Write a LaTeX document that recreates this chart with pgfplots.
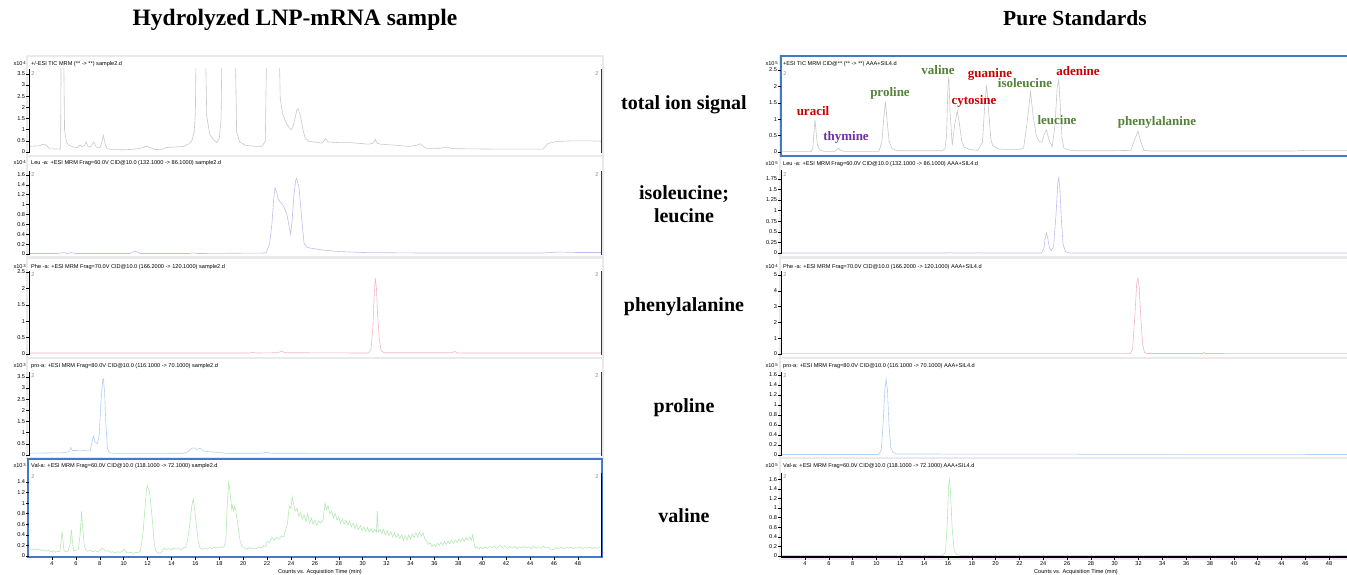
\documentclass[border=0pt]{standalone}
\usepackage{fontspec}
\setmainfont{Liberation Sans}
\newfontfamily\tnr{Liberation Serif}
\usepackage{pgfplots}
\pgfplotsset{compat=1.18}

\definecolor{ticg}{RGB}{200,200,200}
\definecolor{leuc}{RGB}{190,190,242}
\definecolor{phec}{RGB}{242,185,196}
\definecolor{proc}{RGB}{175,208,246}
\definecolor{valc}{RGB}{182,232,182}
\definecolor{selblue}{RGB}{70,120,200}
\definecolor{annred}{RGB}{200,0,0}
\definecolor{anngreen}{RGB}{84,130,53}
\definecolor{annpurple}{RGB}{112,48,160}
\definecolor{framegray}{RGB}{234,234,234}

\newcommand{\tf}{\fontsize{5.6}{6}\selectfont}
\newcommand{\hf}{\fontsize{5.6}{6}\selectfont}
\newcommand{\ex}[1]{x10\,\raisebox{0.55ex}{\fontsize{4.2}{4}\selectfont #1}}

\pgfplotsset{
 chrom/.style={scale only axis, anchor=south west, height=84pt,
   axis line style={draw=none},
   ytick pos=left, xtick=\empty,
   tick align=outside, major tick length=3pt,
   tick style={black, line width=0.5pt},
   yticklabel style={font=\tf, inner sep=1pt},
   xticklabel style={font=\tf, inner sep=1pt, text height=4.2pt, text depth=0pt},
   scaled y ticks=false,
   clip mode=individual,
   /pgf/number format/assume math mode=true,
   every axis plot/.append style={line width=0.6pt, no markers},
 },
 lcol/.style={width=572.4pt, xmin=2.1, xmax=50},
 rcol/.style={width=571.7pt, xmin=2.0, xmax=50},
}

\begin{document}
\begin{tikzpicture}
\path[use as bounding box] (0,0) rectangle (1347pt,574pt);

% frames
\foreach \t/\b in {56/156,156/257,258/358,358/458}{
  \draw[framegray, line width=1.5pt] (27pt,574pt-\t pt) rectangle (603pt,574pt-\b pt);
  \draw[framegray, line width=1.5pt] (780pt,574pt-\t pt) rectangle (1350pt,574pt-\b pt);
}
\draw[framegray, line width=1.5pt] (780pt,574pt-458pt) rectangle (1350pt,574pt-559pt);

% titles
\node[font=\tnr\bfseries\fontsize{23.5}{26}\selectfont, anchor=mid] at (295pt,551pt) {Hydrolyzed LNP-mRNA sample};
\node[font=\tnr\bfseries\fontsize{21.5}{24}\selectfont, anchor=mid] at (1075pt,551pt) {Pure Standards};

% middle labels
\begin{scope}[every node/.style={font=\tnr\bfseries\fontsize{20}{22}\selectfont, anchor=mid}]
\node at (684pt,574pt-107pt) {total ion signal};
\node at (684pt,574pt-197pt) {isoleucine;};
\node at (684pt,574pt-220pt) {leucine};
\node at (684pt,574pt-309pt) {phenylalanine};
\node at (684pt,574pt-410pt) {proline};
\node at (684pt,574pt-520pt) {valine};
\end{scope}

% ================= LEFT COLUMN =================
\begin{axis}[chrom, lcol, at={(29.3pt,421pt)}, ymin=-0.045, ymax=3.72, ytick={0,0.5,1,1.5,2,2.5,3,3.5}]
\addplot[ticg] coordinates {(2.1,0.25) (2.6,0.27) (3.0,0.28) (3.2,0.35) (3.5,0.32) (3.8,0.14) (4.6,0.13) (4.72,0.14) (4.78,6) (4.95,6) (5.05,1.0) (5.2,0.45) (5.4,0.3) (5.8,0.22) (6.1,0.2) (6.35,0.32) (6.5,0.22) (6.7,0.28) (6.85,0.45) (7.0,0.25) (7.2,0.22) (7.5,0.45) (7.7,0.22) (8.0,0.2) (8.15,0.4) (8.3,0.75) (8.45,0.35) (8.6,0.15) (9.0,0.11) (10,0.1) (10.8,0.12) (11.2,0.15) (11.6,0.2) (11.9,0.26) (12.3,0.18) (12.7,0.11) (13.2,0.12) (13.6,0.2) (14.3,0.22) (15.0,0.25) (15.4,0.35) (15.7,0.5) (15.9,0.9) (16.0,1.8) (16.08,6) (16.8,6) (16.95,1.6) (17.2,0.8) (17.5,0.55) (17.8,0.42) (18.0,0.6) (18.15,1.5) (18.25,6) (19.3,6) (19.45,0.9) (19.7,0.45) (20.2,0.3) (21.0,0.25) (21.6,0.26) (21.85,0.5) (22.0,6) (22.95,6) (23.1,2.4) (23.3,1.7) (23.6,1.3) (23.9,1.05) (24.05,1.0) (24.25,1.3) (24.5,1.9) (24.6,1.93) (24.8,1.6) (25.0,1.0) (25.2,0.6) (25.5,0.48) (26.0,0.44) (26.6,0.4) (26.9,0.6) (27.1,0.45) (28.0,0.42) (29,0.42) (30.5,0.35) (30.9,0.4) (31.05,0.57) (31.2,0.4) (31.5,0.35) (32.8,0.3) (33.9,0.25) (34.5,0.3) (34.8,0.37) (35.0,0.28) (35.35,0.16) (36.5,0.17) (37.0,0.22) (37.5,0.15) (39,0.14) (41.2,0.13) (43,0.13) (45.1,0.13) (45.5,0.38) (46.2,0.47) (47.5,0.5) (49,0.5) (50,0.48)};
\draw[black, line width=1.2pt] (rel axis cs:0,0) -- (rel axis cs:0,1);
\draw[black!80, line width=0.8pt] (rel axis cs:1,0) -- (rel axis cs:1,1);
\end{axis}

\begin{axis}[chrom, lcol, at={(29.3pt,319pt)}, ymin=-0.02, ymax=1.68, ytick={0,0.2,0.4,0.6,0.8,1,1.2,1.4,1.6}]
\addplot[leuc] coordinates {(2.1,0.01) (4.5,0.01) (4.95,0.03) (5.3,0.01) (5.6,0.03) (6,0.01) (10.5,0.01) (10.95,0.06) (11.4,0.01) (15.5,0.01) (15.8,0.025) (16.2,0.01) (21.9,0.02) (22.2,0.2) (22.4,0.6) (22.55,1.1) (22.66,1.34) (22.8,1.25) (22.94,1.1) (23.1,1.05) (23.22,1.03) (23.4,0.95) (23.64,0.82) (23.85,0.55) (23.97,0.4) (24.1,0.7) (24.25,1.2) (24.4,1.5) (24.47,1.53) (24.55,1.45) (24.67,1.35) (24.8,1.0) (24.9,0.7) (25.09,0.22) (25.3,0.14) (25.6,0.12) (26.7,0.08) (28,0.05) (30,0.03) (35,0.02) (45,0.02) (46.5,0.04) (48,0.03) (50,0.03)};
\draw[black, line width=1.2pt] (rel axis cs:0,0) -- (rel axis cs:0,1);
\draw[black!80, line width=0.8pt] (rel axis cs:1,0) -- (rel axis cs:1,1);
\end{axis}

\begin{axis}[chrom, lcol, at={(29.3pt,219pt)}, ymin=-0.03, ymax=2.53, ytick={0,0.5,1,1.5,2,2.5}]
\addplot[phec] coordinates {(2.1,0.03) (20.5,0.03) (20.8,0.05) (21.1,0.03) (22.9,0.04) (23.2,0.09) (23.5,0.04) (30.5,0.03) (30.7,0.15) (30.85,0.8) (30.95,1.7) (31.05,2.32) (31.15,2.0) (31.25,1.2) (31.4,0.4) (31.55,0.1) (31.8,0.04) (37.5,0.04) (37.7,0.08) (37.9,0.03) (50,0.03)};
\draw[black, line width=1.2pt] (rel axis cs:0,0) -- (rel axis cs:0,1);
\draw[black!80, line width=0.8pt] (rel axis cs:1,0) -- (rel axis cs:1,1);
\end{axis}

\begin{axis}[chrom, lcol, at={(29.3pt,118pt)}, ymin=-0.045, ymax=3.72, ytick={0,0.5,1,1.5,2,2.5,3,3.5}]
\addplot[proc] coordinates {(2.1,0.08) (5.0,0.1) (5.4,0.15) (5.56,0.33) (5.7,0.2) (6.0,0.2) (6.34,0.22) (7.0,0.18) (7.2,0.2) (7.35,0.6) (7.46,0.85) (7.6,0.6) (7.8,0.5) (7.95,0.9) (8.1,2.4) (8.25,3.4) (8.3,3.42) (8.4,2.8) (8.5,1.5) (8.63,0.3) (8.8,0.1) (9.5,0.07) (12,0.07) (15.0,0.08) (15.4,0.15) (15.7,0.3) (15.9,0.32) (16.1,0.25) (16.4,0.3) (16.7,0.18) (17.1,0.15) (17.8,0.12) (18.5,0.08) (21.5,0.08) (21.97,0.12) (22.4,0.08) (30,0.07) (40,0.07) (50,0.07)};
\draw[black, line width=1.2pt] (rel axis cs:0,0) -- (rel axis cs:0,1);
\draw[black!80, line width=0.8pt] (rel axis cs:1,0) -- (rel axis cs:1,1);
\end{axis}

\draw[selblue, line width=1.2pt] (28pt,574pt-459pt) rectangle (602pt,574pt-557pt);
\begin{axis}[chrom, lcol, at={(29.3pt,17pt)}, ymin=-0.019, ymax=1.569, ytick={0,0.2,0.4,0.6,0.8,1,1.2,1.4}, xtick={4,6,...,48}, xtick pos=left]
\addplot[valc] coordinates {(2.1,0.13) (2.3,0.11) (2.5,0.14) (2.7,0.12) (2.9,0.13) (3.1,0.1) (3.3,0.12) (3.5,0.09) (3.7,0.11) (3.9,0.08) (4.1,0.1) (4.3,0.07) (4.5,0.09) (4.65,0.08) (4.75,0.25) (4.84,0.46) (4.92,0.3) (5.0,0.1) (5.2,0.08) (5.35,0.1) (5.5,0.2) (5.62,0.5) (5.7,0.3) (5.8,0.1) (6.0,0.11) (6.2,0.12) (6.35,0.4) (6.48,0.85) (6.55,0.6) (6.7,0.2) (6.85,0.1) (7.0,0.09) (7.2,0.11) (7.4,0.08) (7.6,0.1) (7.8,0.08) (8.0,0.1) (8.2,0.15) (8.35,0.12) (8.5,0.09) (8.7,0.1) (8.9,0.07) (9.1,0.08) (9.3,0.06) (9.5,0.08) (9.7,0.07) (9.9,0.09) (10.05,0.13) (10.2,0.07) (10.4,0.06) (10.6,0.07) (10.8,0.05) (11.0,0.07) (11.2,0.06) (11.4,0.1) (11.6,0.4) (11.78,0.9) (11.9,1.25) (11.98,1.32) (12.1,1.25) (12.2,1.15) (12.3,0.9) (12.43,0.6) (12.55,0.25) (12.65,0.12) (12.8,0.07) (13.04,0.05) (13.2,0.08) (13.4,0.15) (13.6,0.12) (13.8,0.14) (14.0,0.12) (14.2,0.15) (14.4,0.13) (14.6,0.14) (14.8,0.12) (15.0,0.15) (15.2,0.17) (15.35,0.3) (15.55,0.65) (15.7,0.95) (15.82,1.08) (15.95,0.85) (16.1,0.55) (16.25,0.25) (16.4,0.15) (16.6,0.13) (16.8,0.15) (17.0,0.13) (17.2,0.16) (17.4,0.14) (17.6,0.17) (17.8,0.15) (18.0,0.17) (18.2,0.16) (18.4,0.18) (18.55,0.3) (18.65,0.9) (18.79,1.42) (18.9,1.2) (19.04,0.88) (19.1,0.95) (19.2,0.85) (19.3,0.95) (19.45,0.75) (19.6,0.5) (19.73,0.3) (19.9,0.18) (20.1,0.15) (20.3,0.13) (20.5,0.16) (20.7,0.13) (20.9,0.15) (21.1,0.14) (21.3,0.17) (21.5,0.15) (21.7,0.2) (21.9,0.18) (22.0,0.28) (22.2,0.25) (22.4,0.35) (22.6,0.3) (22.8,0.35) (23.0,0.32) (23.2,0.38) (23.4,0.36) (23.55,0.5) (23.7,0.6) (23.85,0.95) (24.0,0.9) (24.1,1.12) (24.2,1.0) (24.35,0.85) (24.5,0.9) (24.65,0.75) (24.8,0.82) (24.95,0.7) (25.1,0.78) (25.25,0.65) (25.4,0.8) (25.55,0.62) (25.7,0.72) (25.85,0.6) (26.0,0.68) (26.15,0.58) (26.3,0.66) (26.5,0.62) (26.7,0.7) (26.85,1.0) (26.95,0.88) (27.1,0.95) (27.25,0.8) (27.4,0.85) (27.55,0.72) (27.7,0.8) (27.85,0.68) (28.0,0.74) (28.15,0.62) (28.3,0.7) (28.45,0.6) (28.6,0.68) (28.75,0.58) (28.9,0.66) (29.05,0.55) (29.2,0.62) (29.35,0.52) (29.5,0.6) (29.65,0.5) (29.8,0.58) (29.95,0.48) (30.1,0.55) (30.25,0.46) (30.4,0.54) (30.55,0.45) (30.7,0.52) (30.85,0.44) (31.0,0.5) (31.15,0.45) (31.22,0.85) (31.3,0.45) (31.45,0.5) (31.6,0.42) (31.75,0.5) (31.9,0.4) (32.05,0.48) (32.2,0.38) (32.35,0.46) (32.5,0.36) (32.65,0.44) (32.8,0.35) (32.95,0.42) (33.1,0.33) (33.25,0.4) (33.4,0.3) (33.55,0.38) (33.7,0.3) (33.85,0.4) (34.0,0.32) (34.15,0.42) (34.3,0.35) (34.45,0.44) (34.6,0.36) (34.75,0.45) (34.9,0.38) (35.05,0.44) (35.2,0.32) (35.35,0.28) (35.5,0.22) (35.65,0.25) (35.8,0.18) (35.95,0.22) (36.1,0.18) (36.25,0.24) (36.4,0.2) (36.55,0.26) (36.7,0.21) (36.85,0.27) (37.0,0.22) (37.15,0.28) (37.3,0.23) (37.45,0.3) (37.6,0.24) (37.75,0.3) (37.9,0.26) (38.05,0.32) (38.2,0.27) (38.35,0.34) (38.5,0.28) (38.65,0.35) (38.8,0.3) (38.95,0.36) (39.1,0.3) (39.2,0.4) (39.3,0.28) (39.4,0.15) (39.55,0.18) (39.7,0.13) (39.85,0.17) (40.0,0.14) (40.2,0.17) (40.4,0.14) (40.6,0.18) (40.8,0.15) (41.0,0.19) (41.2,0.14) (41.5,0.2) (41.7,0.16) (41.9,0.19) (42.1,0.14) (42.3,0.18) (42.5,0.15) (42.7,0.18) (42.9,0.14) (43.1,0.17) (43.3,0.15) (43.5,0.18) (43.7,0.15) (43.9,0.17) (44.1,0.14) (44.3,0.18) (44.5,0.15) (44.7,0.17) (44.9,0.15) (45.1,0.19) (45.3,0.15) (45.5,0.17) (45.7,0.13) (45.95,0.12) (46.2,0.16) (46.4,0.14) (46.6,0.17) (46.8,0.14) (47.0,0.16) (47.2,0.15) (47.4,0.17) (47.6,0.14) (47.8,0.16) (48.0,0.15) (48.2,0.17) (48.4,0.14) (48.6,0.16) (48.8,0.15) (49.0,0.17) (49.2,0.14) (49.4,0.16) (49.6,0.15) (49.85,0.17)};
\draw[black, line width=0.8pt] (rel axis cs:1,0) -- (rel axis cs:1,1);
\end{axis}

% ================= RIGHT COLUMN =================
\draw[selblue, line width=1.2pt] (781pt,574pt-56pt) rectangle (1350pt,574pt-156pt);
\begin{axis}[chrom, rcol, at={(781.2pt,421pt)}, ymin=-0.03, ymax=2.53, ytick={0,0.5,1,1.5,2,2.5}]
\addplot[ticg] coordinates {(2.0,0.01) (4.5,0.01) (4.65,0.1) (4.75,0.6) (4.84,0.99) (4.93,0.6) (5.05,0.2) (5.25,0.06) (5.6,0.02) (6.5,0.02) (6.7,0.08) (6.81,0.11) (6.95,0.06) (7.3,0.02) (10.2,0.02) (10.45,0.3) (10.6,1.0) (10.75,1.53) (10.88,1.0) (11.05,0.35) (11.3,0.1) (11.7,0.04) (15.5,0.04) (15.75,0.1) (15.88,0.5) (16.0,2.0) (16.07,2.3) (16.18,1.2) (16.36,0.2) (16.55,0.8) (16.78,1.25) (16.95,0.9) (17.15,0.35) (17.36,0.15) (17.8,0.08) (18.5,0.05) (18.9,0.3) (19.1,1.5) (19.25,2.04) (19.4,1.3) (19.6,0.4) (19.75,0.2) (20.2,0.1) (20.7,0.08) (22.0,0.08) (22.35,0.12) (22.65,0.9) (22.93,1.84) (23.15,1.1) (23.42,0.5) (23.65,0.33) (23.9,0.3) (24.1,0.55) (24.27,0.67) (24.5,0.35) (24.75,0.16) (24.98,0.8) (25.18,2.0) (25.3,2.2) (25.42,1.5) (25.58,0.4) (25.75,0.1) (26.2,0.06) (26.6,0.04) (30,0.04) (31.35,0.05) (31.65,0.35) (31.95,0.64) (32.2,0.3) (32.45,0.05) (33,0.03) (40,0.03) (45,0.03) (46,0.05) (50,0.05)};
\draw[selblue, line width=1.2pt] (rel axis cs:0,0) -- (rel axis cs:0,1);
\end{axis}

\begin{axis}[chrom, rcol, at={(781.2pt,320pt)}, ymin=-0.024, ymax=1.96, ytick={0,0.25,0.5,0.75,1,1.25,1.5,1.75}]
\addplot[leuc] coordinates {(2.0,0.0) (16.0,0.0) (16.2,0.01) (16.4,0.0) (18.4,0.0) (18.5,0.01) (18.6,0.0) (23.85,0.0) (24.05,0.1) (24.18,0.38) (24.27,0.47) (24.38,0.35) (24.52,0.12) (24.67,0.06) (24.87,0.15) (25.07,0.9) (25.22,1.65) (25.3,1.78) (25.4,1.5) (25.52,0.8) (25.67,0.2) (25.87,0.03) (26.2,0.0) (50,0.0)};
\draw[black, line width=1.2pt] (rel axis cs:0,0) -- (rel axis cs:0,1);
\end{axis}

\begin{axis}[chrom, rcol, at={(781.2pt,219pt)}, ymin=-0.063, ymax=5.25, ytick={0,1,2,3,4,5}]
\addplot[phec] coordinates {(2.0,0.02) (31.3,0.02) (31.5,0.3) (31.7,2.5) (31.85,4.5) (31.95,4.79) (32.05,4.3) (32.2,2.2) (32.35,0.6) (32.5,0.1) (32.7,0.03) (37.4,0.03) (37.5,0.1) (37.6,0.03) (50,0.02)};
\draw[black, line width=1.2pt] (rel axis cs:0,0) -- (rel axis cs:0,1);
\end{axis}

\begin{axis}[chrom, rcol, at={(781.2pt,118pt)}, ymin=-0.02, ymax=1.66, ytick={0,0.2,0.4,0.6,0.8,1,1.2,1.4,1.6}]
\addplot[proc] coordinates {(2.0,0.01) (10.2,0.01) (10.4,0.1) (10.55,0.6) (10.7,1.3) (10.81,1.52) (10.92,1.3) (11.05,0.6) (11.2,0.15) (11.4,0.05) (11.7,0.02) (50,0.01)};
\draw[black, line width=1.2pt] (rel axis cs:0,0) -- (rel axis cs:0,1);
\end{axis}

\begin{axis}[chrom, rcol, at={(781.2pt,17pt)}, ymin=-0.021, ymax=1.73, ytick={0,0.2,0.4,0.6,0.8,1,1.2,1.4,1.6}, xtick={4,6,...,48}, xtick pos=left]
\addplot[valc] coordinates {(2.0,0.01) (15.6,0.01) (15.8,0.1) (15.95,0.7) (16.05,1.45) (16.12,1.6) (16.2,1.4) (16.35,0.6) (16.5,0.15) (16.7,0.03) (17,0.01) (50,0.01)};
\draw[black, line width=1.2pt] (rel axis cs:0,0) -- (rel axis cs:0,1);
\draw[black, line width=1.2pt] (rel axis cs:0,0) -- (rel axis cs:1,0);
\end{axis}

% headers
\begin{scope}[every node/.style={font=\hf, anchor=mid west, inner sep=0pt}]
\node at (31pt,574pt-63pt) {+/-ESI TIC MRM (** -> **) sample2.d};
\node at (31pt,574pt-162pt) {Leu -a: +ESI MRM Frag=60.0V CID@10.0 (132.1000 -> 86.1000) sample2.d};
\node at (31pt,574pt-266pt) {Phe -a: +ESI MRM Frag=70.0V CID@10.0 (166.2000 -> 120.1000) sample2.d};
\node at (31pt,574pt-365pt) {pro-a: +ESI MRM Frag=80.0V CID@10.0 (116.1000 -> 70.1000) sample2.d};
\node at (31pt,574pt-465pt) {Val-a: +ESI MRM Frag=60.0V CID@10.0 (118.1000 -> 72.1000) sample2.d};
\node at (783pt,574pt-63pt) {+ESI TIC MRM CID@** (** -> **) AAA+SIL4.d};
\node at (783pt,574pt-163pt) {Leu -a: +ESI MRM Frag=60.0V CID@10.0 (132.1000 -> 86.1000) AAA+SIL4.d};
\node at (783pt,574pt-266pt) {Phe -a: +ESI MRM Frag=70.0V CID@10.0 (166.2000 -> 120.1000) AAA+SIL4.d};
\node at (783pt,574pt-365pt) {pro-a: +ESI MRM Frag=80.0V CID@10.0 (116.1000 -> 70.1000) AAA+SIL4.d};
\node at (783pt,574pt-465pt) {Val-a: +ESI MRM Frag=60.0V CID@10.0 (118.1000 -> 72.1000) AAA+SIL4.d};
\end{scope}
\begin{scope}[every node/.style={font=\hf, anchor=mid east, inner sep=0pt}]
\node at (26pt,574pt-63pt) {\ex{4}};
\node at (26pt,574pt-162pt) {\ex{4}};
\node at (26pt,574pt-266pt) {\ex{3}};
\node at (26pt,574pt-365pt) {\ex{3}};
\node at (26pt,574pt-465pt) {\ex{3}};
\node at (778pt,574pt-63pt) {\ex{5}};
\node at (778pt,574pt-163pt) {\ex{5}};
\node at (778pt,574pt-266pt) {\ex{4}};
\node at (778pt,574pt-365pt) {\ex{5}};
\node at (778pt,574pt-465pt) {\ex{5}};
\end{scope}
% small "2" markers
\begin{scope}[every node/.style={font=\hf, text=black!45, anchor=mid, inner sep=0pt}]
\foreach \yy in {73,174,274,375,476}{
  \node at (33pt,574pt-\yy pt) {2};
  \node at (597pt,574pt-\yy pt) {2};
  \node at (785pt,574pt-\yy pt) {2};
}
\end{scope}
% x axis titles
\node[font=\tf, anchor=north, inner sep=0pt] at (320pt,5pt) {Counts vs. Acquisition Time (min)};
\node[font=\tf, anchor=north, inner sep=0pt] at (1076pt,5pt) {Counts vs. Acquisition Time (min)};

% annotations
\begin{scope}[every node/.style={font=\tnr\bfseries\fontsize{13}{14}\selectfont, anchor=mid, inner sep=0pt}]
\node[text=annred] at (813pt,574pt-113pt) {uracil};
\node[text=annpurple] at (846pt,574pt-138pt) {thymine};
\node[text=anngreen] at (890pt,574pt-94pt) {proline};
\node[text=anngreen] at (938pt,574pt-72pt) {valine};
\node[text=annred] at (990pt,574pt-75pt) {guanine};
\node[text=annred] at (974pt,574pt-102pt) {cytosine};
\node[text=anngreen] at (1025pt,574pt-85pt) {isoleucine};
\node[text=anngreen] at (1057pt,574pt-122pt) {leucine};
\node[text=annred] at (1078pt,574pt-73pt) {adenine};
\node[text=anngreen] at (1157pt,574pt-123pt) {phenylalanine};
\end{scope}
\end{tikzpicture}
\end{document}
